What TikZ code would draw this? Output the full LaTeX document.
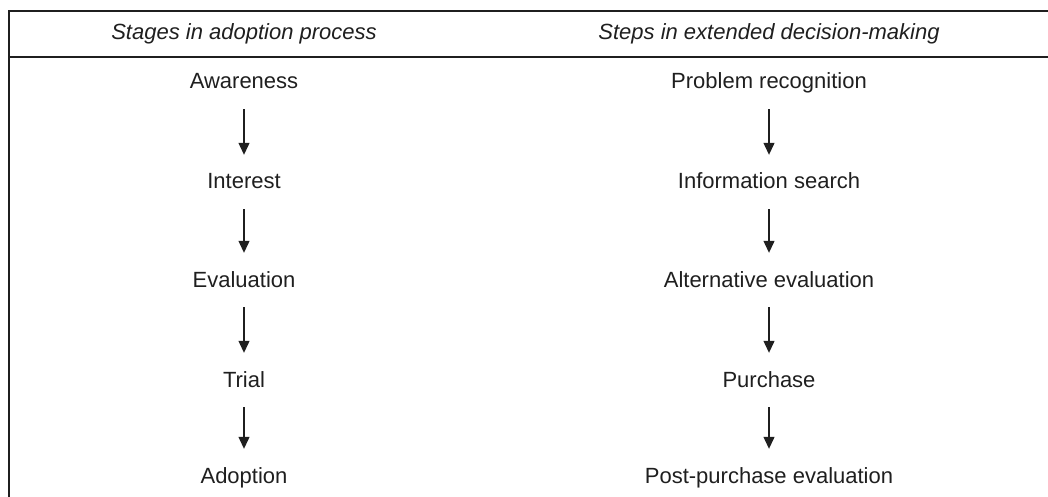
\documentclass[tikz,border=0pt]{standalone}
\usepackage{fontspec}
\setmainfont{Liberation Sans}
\usetikzlibrary{arrows.meta}
\definecolor{ink}{gray}{0.12}
\begin{document}
\begin{tikzpicture}[x=1pt,y=-1pt,
  lbl/.style={anchor=base, inner sep=0pt, text height=16pt, text depth=5pt,
    text=ink, font=\fontsize{22}{26}\selectfont},
  hdr/.style={anchor=base, inner sep=0pt, text=ink,
    font=\fontsize{22}{26}\selectfont\itshape},
  flow/.style={draw=ink, line width=1.2pt, -{Triangle[width=11pt,length=12pt]},
    shorten <=15pt, shorten >=18pt},
  rule/.style={draw=ink, line width=1.3pt}]
\useasboundingbox (0,0) rectangle (1048,497);
% frame
\coordinate (tl) at (9,11);
\coordinate (tr) at (1048,11);
\coordinate (bl) at (9,497);
\coordinate (ml) at (9,57);
\coordinate (mr) at (1048,57);
\draw[rule] (bl) -- (tl) -- (tr);
\draw[rule] (ml) -- (mr);
% headers
\node[hdr] (h1) at (244,40) {Stages in adoption process};
\node[hdr] (h2) at (769,40) {Steps in extended decision-making};
% left column
\node[lbl] (a1) at (244,89) {Awareness};
\node[lbl] (a2) at (244,189) {Interest};
\node[lbl] (a3) at (244,287) {Evaluation};
\node[lbl] (a4) at (244,387) {Trial};
\node[lbl] (a5) at (244,483) {Adoption};
% right column
\node[lbl] (b1) at (769,89) {Problem recognition};
\node[lbl] (b2) at (769,189) {Information search};
\node[lbl] (b3) at (769,287) {Alternative evaluation};
\node[lbl] (b4) at (769,387) {Purchase};
\node[lbl] (b5) at (769,483) {Post-purchase evaluation};
% arrows
\foreach \p/\q in {a1/a2,a2/a3,a3/a4,a4/a5,b1/b2,b2/b3,b3/b4,b4/b5}
  \draw[flow] (\p.south) -- (\q.north);
\end{tikzpicture}
\end{document}
